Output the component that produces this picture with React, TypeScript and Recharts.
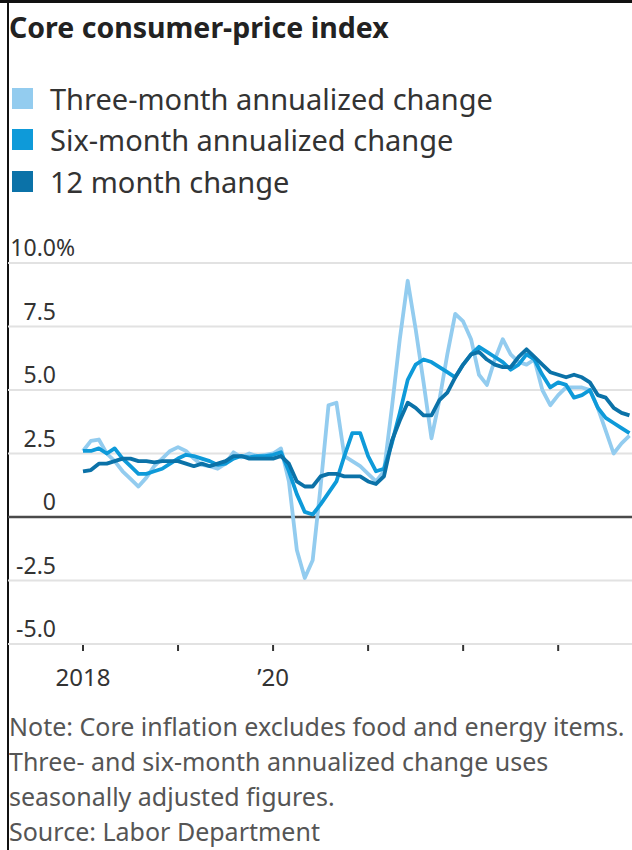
import React from 'react';
import { LineChart, Line, XAxis, YAxis, CartesianGrid, ReferenceLine } from 'recharts';

// monthly, Jan 2018 .. Oct 2023
const threeMonth = [
  2.6, 3.0, 3.05, 2.5, 2.2, 1.8, 1.5, 1.2, 1.55, 2.0, 2.3, 2.6,
  2.75, 2.6, 2.3, 2.05, 2.0, 1.9, 2.1, 2.55, 2.35, 2.5, 2.4, 2.45,
  2.5, 2.7, 1.4, -1.3, -2.4, -1.7, 1.2, 4.4, 4.5, 2.4, 2.2, 2.0,
  1.7, 1.4, 1.8, 4.3, 7.0, 9.3, 7.4, 5.3, 3.1, 4.6, 6.4, 8.0,
  7.7, 7.0, 5.6, 5.2, 6.2, 7.0, 6.4, 6.1, 6.0, 6.2, 5.0, 4.4,
  4.8, 5.1, 5.1, 5.1, 5.0, 4.3, 3.4, 2.5, 2.9, 3.2,
];
const sixMonth = [
  2.6, 2.6, 2.7, 2.5, 2.7, 2.3, 2.0, 1.7, 1.7, 1.8, 1.9, 2.1,
  2.3, 2.45, 2.4, 2.3, 2.2, 2.05, 2.1, 2.3, 2.4, 2.35, 2.4, 2.4,
  2.45, 2.55, 1.8, 0.9, 0.2, 0.1, 0.5, 0.95, 1.4, 2.4, 3.3, 3.3,
  2.4, 1.8, 1.9, 2.9, 4.1, 5.4, 6.0, 6.2, 6.1, 5.9, 5.7, 5.5,
  6.0, 6.4, 6.7, 6.5, 6.3, 6.1, 5.8, 6.0, 6.4, 6.2, 5.6, 5.1,
  5.3, 5.2, 4.7, 4.8, 5.0, 4.3, 3.9, 3.7, 3.5, 3.3,
];
const twelveMonth = [
  1.8, 1.85, 2.1, 2.1, 2.2, 2.3, 2.3, 2.2, 2.2, 2.15, 2.2, 2.2,
  2.2, 2.1, 2.0, 2.1, 2.0, 2.1, 2.2, 2.4, 2.4, 2.3, 2.3, 2.3,
  2.3, 2.4, 2.1, 1.4, 1.2, 1.2, 1.6, 1.7, 1.7, 1.6, 1.6, 1.6,
  1.4, 1.3, 1.6, 3.0, 3.8, 4.5, 4.3, 4.0, 4.0, 4.6, 4.9, 5.5,
  6.0, 6.4, 6.5, 6.2, 6.0, 5.9, 5.9, 6.3, 6.6, 6.3, 6.0, 5.7,
  5.6, 5.5, 5.6, 5.5, 5.3, 4.8, 4.7, 4.3, 4.1, 4.0,
];

const yTicks = [-5, -2.5, 0, 2.5, 5, 7.5, 10];
const yLabels = ['-5.0', '-2.5', '0', '2.5', '5.0', '7.5', '10.0'];
const xTicks = [0, 12, 24, 36, 48, 60];
const xLabels = ['2018', '', '\u201920', '', '', ''];

const legendItems = [
  { name: 'Three-month annualized change', color: '#93ccef' },
  { name: 'Six-month annualized change', color: '#0e9ad9' },
  { name: '12 month change', color: '#0b72a8' },
];

const noteLines = [
  'Note: Core inflation excludes food and energy items.',
  'Three- and six-month annualized change uses',
  'seasonally adjusted figures.',
  'Source: Labor Department',
];

const rows = threeMonth.map((v, i) => ({
  i,
  three: v,
  six: sixMonth[i],
  twelve: twelveMonth[i],
}));

const FONT = '"Noto Sans", sans-serif';

const YTick = (props: any) => {
  const { y, payload } = props;
  const idx = yTicks.indexOf(payload.value);
  const label = yLabels[idx];
  return (
    <g>
      <text x={56} y={y - 7} textAnchor="end" fontSize={23} fill="#333" fontFamily={FONT}>
        {label}
      </text>
      {payload.value === 10 && (
        <text x={56} y={y - 7} textAnchor="start" fontSize={23} fill="#333" fontFamily={FONT}>
          %
        </text>
      )}
    </g>
  );
};

const XTick = (props: any) => {
  const { x, y, payload } = props;
  const label = xLabels[xTicks.indexOf(payload.value)];
  return (
    <g>
      <line x1={x} x2={x} y1={y + 1} y2={y + 7} stroke="#333" strokeWidth={2} />
      {label && (
        <text x={x} y={y + 42} textAnchor="middle" fontSize={24} fill="#333" fontFamily={FONT}>
          {label}
        </text>
      )}
    </g>
  );
};

export default function App() {
  return (
    <div style={{ position: 'absolute', left: 0, top: 0, width: 632, height: 850, background: '#fff', fontFamily: FONT, overflow: 'hidden' }}>
      <div style={{ position: 'absolute', left: 0, top: 0, width: 632, height: 3, background: '#111' }} />
      <div style={{ position: 'absolute', left: 7, top: 0, width: 2, height: 850, background: '#111' }} />

      <div style={{ position: 'absolute', left: 9, top: 9, fontSize: 28.5, fontWeight: 700, color: '#222', lineHeight: '36px', whiteSpace: 'nowrap' }}>
        Core consumer-price index
      </div>

      {legendItems.map((item, k) => (
        <div key={item.name} style={{ position: 'absolute', left: 12, top: 77 + k * 41.5, height: 42, display: 'flex', alignItems: 'center', whiteSpace: 'nowrap' }}>
          <span style={{ width: 21, height: 21, background: item.color, display: 'inline-block' }} />
          <span style={{ marginLeft: 17, fontSize: 29, color: '#333' }}>{item.name}</span>
        </div>
      ))}

      <div style={{ position: 'absolute', left: 0, top: 0 }}>
        <LineChart width={632} height={700} data={rows} margin={{ top: 263, right: 0, bottom: 0, left: 8 }}>
          <CartesianGrid vertical={false} stroke="#e2e2e2" strokeWidth={2} />
          <XAxis
            dataKey="i"
            type="number"
            domain={[-9.47, 69.32]}
            ticks={xTicks}
            allowDataOverflow
            axisLine={false}
            tickLine={false}
            tickSize={0}
            tickMargin={0}
            height={56}
            tick={<XTick />}
            interval={0}
          />
          <YAxis
            domain={[-5, 10]}
            ticks={yTicks}
            width={60}
            mirror
            axisLine={false}
            tickLine={false}
            tick={<YTick />}
            interval={0}
          />
          <ReferenceLine y={0} stroke="#4a4a4a" strokeWidth={2.5} />
          <Line dataKey="three" stroke="#93ccef" strokeWidth={3.8} dot={false} isAnimationActive={false} strokeLinejoin="round" />
          <Line dataKey="six" stroke="#0e9ad9" strokeWidth={3.8} dot={false} isAnimationActive={false} strokeLinejoin="round" />
          <Line dataKey="twelve" stroke="#0b72a8" strokeWidth={3.8} dot={false} isAnimationActive={false} strokeLinejoin="round" />
        </LineChart>
      </div>

      {noteLines.map((line, k) => (
        <div key={k} style={{ position: 'absolute', left: 9, top: 712 + k * 35, fontSize: 25, lineHeight: '28px', color: '#555', whiteSpace: 'nowrap' }}>
          {line}
        </div>
      ))}
    </div>
  );
}
